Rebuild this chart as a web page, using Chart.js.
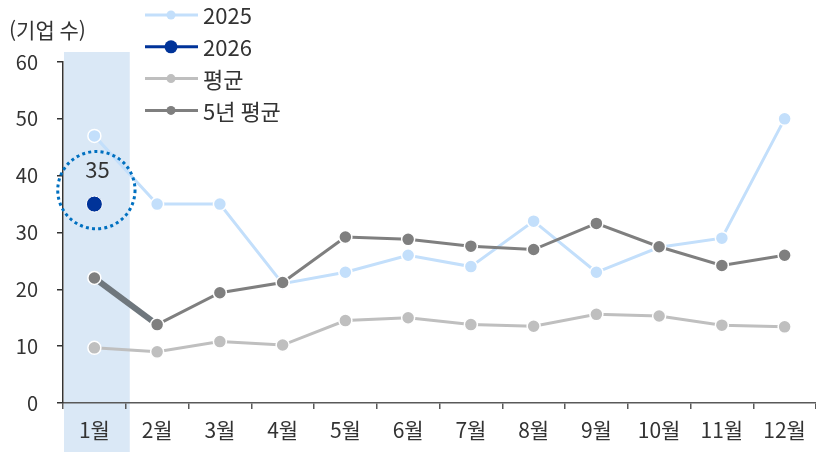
<!DOCTYPE html>
<html lang="ko">
<head>
<meta charset="UTF-8">
<title>월별 기업 수</title>
<script src="https://cdn.jsdelivr.net/npm/chart.js"></script>
<style>
  html, body { margin: 0; padding: 0; background: #fff; }
  #wrap { width: 816px; height: 452px; }
</style>
</head>
<body>
<div id="wrap"><canvas id="chart" width="816" height="452"></canvas></div>
<script>
// data
var months = ['1월', '2월', '3월', '4월', '5월', '6월', '7월', '8월', '9월', '10월', '11월', '12월'];
var y2025 = [47, 35, 35, 21, 23, 26, 24, 32, 23, 27.4, 29, 50];
var y2026 = [35, null, null, null, null, null, null, null, null, null, null, null];
var avgAll = [9.7, 9, 10.8, 10.2, 14.5, 15, 13.8, 13.5, 15.6, 15.3, 13.7, 13.4];
var avg5y = [22, 13.8, 19.4, 21.2, 29.2, 28.8, 27.6, 27, 31.6, 27.5, 24.2, 26];
var yTicks = [0, 10, 20, 30, 40, 50, 60];
var unitLabel = '(기업 수)';
var highlightIndex = 0;

var FONT = "'Noto Sans CJK KR', 'Noto Sans', sans-serif";
Chart.defaults.font.family = FONT;

// points are well inside the plot, so don't let their size shrink the chart area
Chart.LineController.prototype.getMaxOverflow = function() { return 0; };

var colors = {
  y2025: '#c3dffb',
  y2026: '#003399',
  avgAll: '#bfbfbf',
  avg5y: '#7f7f7f'
};

// shaded column behind the highlighted month
var highlightPlugin = {
  id: 'highlight',
  beforeDraw: function(chart) {
    var x = chart.scales.x, ctx = chart.ctx;
    var half = (x.getPixelForValue(1) - x.getPixelForValue(0)) / 2;
    var cx = x.getPixelForValue(highlightIndex);
    var top = chart.chartArea.top - 10;
    ctx.save();
    ctx.fillStyle = '#dae8f6';
    ctx.fillRect(cx - half + 1, top, half * 2 + 3, chart.height - top);
    ctx.restore();
  }
};

// dotted ring + value label around the 2026 point
var ringPlugin = {
  id: 'ring',
  afterDatasetsDraw: function(chart) {
    var pt = chart.getDatasetMeta(1).data[highlightIndex];
    var ctx = chart.ctx;
    var ys = chart.scales.y;
    var unit = ys.getPixelForValue(0) - ys.getPixelForValue(10);
    var r = unit * 0.68;
    ctx.save();
    ctx.strokeStyle = '#0070c0';
    ctx.lineWidth = 3;
    ctx.setLineDash([3, 3.2]);
    ctx.beginPath();
    ctx.arc(pt.x + 2, pt.y - r * 0.36, r, 0, Math.PI * 2);
    ctx.stroke();
    ctx.setLineDash([]);
    ctx.fillStyle = '#333';
    ctx.font = '22px ' + FONT;
    ctx.textAlign = 'center';
    ctx.textBaseline = 'middle';
    ctx.fillText(String(y2026[highlightIndex]), pt.x + 3, pt.y - unit * 0.6);
    ctx.restore();
  }
};

// legend and unit label
var legendPlugin = {
  id: 'customLegend',
  afterDraw: function(chart) {
    var ctx = chart.ctx;
    ctx.save();
    ctx.fillStyle = '#333';
    ctx.font = '21px ' + FONT;
    ctx.textAlign = 'left';
    ctx.textBaseline = 'middle';
    ctx.fillText(unitLabel, 9, 30);

    var rows = [0, 1, 2, 3];
    rows.forEach(function(i) {
      var ds = chart.data.datasets[i];
      var y = 15 + i * 31.8;
      ctx.strokeStyle = ds.borderColor;
      ctx.lineWidth = 3;
      ctx.beginPath();
      ctx.moveTo(145, y);
      ctx.lineTo(198, y);
      ctx.stroke();
      ctx.fillStyle = ds.backgroundColor;
      ctx.beginPath();
      ctx.arc(171, y, i === 1 ? 6.5 : 4.5, 0, Math.PI * 2);
      ctx.fill();
      ctx.fillStyle = '#333';
      ctx.font = '22px ' + FONT;
      ctx.fillText(ds.label, 203, y + 1);
    });
    ctx.restore();
  }
};

var ctx = document.getElementById('chart').getContext('2d');
var chart = new Chart(ctx, {
  type: 'line',
  data: {
    labels: months,
    datasets: [{
      label: '2025',
      data: y2025,
      borderColor: colors.y2025,
      backgroundColor: colors.y2025,
      borderWidth: 3,
      pointRadius: 6.5,
      pointBorderColor: '#fff',
      pointBorderWidth: 1.5,
      clip: false,
      order: 3
    }, {
      label: '2026',
      data: y2026,
      borderColor: colors.y2026,
      backgroundColor: colors.y2026,
      borderWidth: 3,
      pointRadius: 8,
      pointBorderColor: '#fff',
      pointBorderWidth: 1,
      clip: false,
      order: 0
    }, {
      label: '평균',
      data: avgAll,
      borderColor: colors.avgAll,
      backgroundColor: colors.avgAll,
      borderWidth: 3,
      pointRadius: 6.5,
      pointBorderColor: '#fff',
      pointBorderWidth: 1.5,
      clip: false,
      order: 2
    }, {
      label: '5년 평균',
      data: avg5y,
      borderColor: colors.avg5y,
      backgroundColor: colors.avg5y,
      borderWidth: 3,
      pointRadius: 6.5,
      pointBorderColor: '#fff',
      pointBorderWidth: 1.5,
      clip: false,
      order: 1,
      segment: {
        borderWidth: function(c) { return c.p0DataIndex === highlightIndex ? 6 : 3; },
        borderColor: function(c) { return c.p0DataIndex === highlightIndex ? '#6f777d' : colors.avg5y; }
      }
    }]
  },
  options: {
    responsive: false,
    animation: false,
    devicePixelRatio: 1,
    layout: { padding: { top: 62, left: 0, right: 0, bottom: 0 } },
    plugins: {
      legend: { display: false },
      tooltip: { enabled: false }
    },
    scales: {
      x: {
        offset: true,
        grid: { offset: true, drawOnChartArea: false, tickLength: 6, color: '#595959', lineWidth: 1.5 },
        border: { color: '#595959', width: 1.5 },
        ticks: { color: '#333', font: { size: 21 }, padding: 8, maxRotation: 0 },
        afterFit: function(s) { s.height = 49; s.paddingLeft = 0; s.paddingRight = 0; }
      },
      y: {
        min: 0,
        max: 60,
        afterBuildTicks: function(s) { s.ticks = yTicks.map(function(v) { return { value: v }; }); },
        grid: { drawOnChartArea: false, tickLength: 6, color: '#333', lineWidth: 1.5 },
        border: { color: '#333', width: 1.5 },
        ticks: { color: '#333', font: { size: 20 }, padding: 19 },
        afterFit: function(s) { s.width = 63; }
      }
    }
  },
  plugins: [highlightPlugin, ringPlugin, legendPlugin]
});
</script>
</body>
</html>
